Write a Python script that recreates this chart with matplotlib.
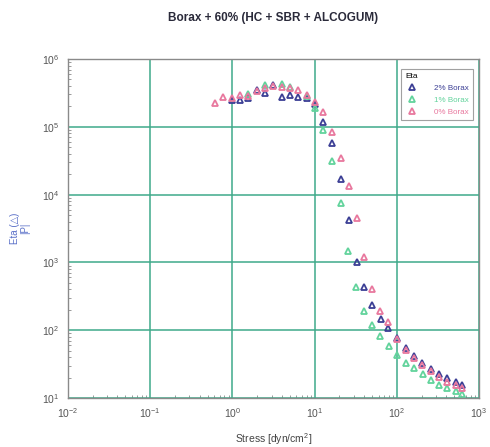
import matplotlib
matplotlib.use("Agg")
import matplotlib.pyplot as plt
from matplotlib.ticker import LogLocator, NullFormatter

plt.rcParams['font.family'] = ['Liberation Sans', 'DejaVu Sans']
plt.rcParams['mathtext.fontset'] = 'custom'
plt.rcParams['mathtext.rm'] = 'Liberation Sans'

title = "Borax + 60% (HC + SBR + ALCOGUM)"
series_names = ["2% Borax", "1% Borax", "0% Borax"]
series_colors = ["#3c3f95", "#62d39c", "#e8789e"]

# Stress [dyn/cm^2] and viscosity Eta [P] for each borax level
stress_2 = [0.98, 1.24, 1.56, 1.98, 2.49, 3.15, 3.98, 5.01, 6.31, 8.0, 10.1, 12.8,
            16.4, 20.8, 26.2, 32.5, 39.9, 49.5, 63.7, 78.8, 100, 128, 162, 204, 258,
            326, 411, 521, 627]
eta_2 = [2.48e5, 2.48e5, 2.63e5, 3.49e5, 3.12e5, 4.14e5, 2.78e5, 2.94e5, 2.78e5,
         2.63e5, 2.17e5, 1.19e5, 5.8e4, 1.68e4, 4.2e3, 1.02e3, 430, 236, 148, 107,
         77, 54, 41.7, 33.3, 26.8, 22.6, 19.5, 17.4, 15.6]

stress_1 = [1.56, 2.49, 3.98, 5.01, 8.0, 10.1, 12.8, 16.4, 20.8, 25.7, 31.9, 39.9,
            49.9, 62.5, 80.4, 101, 129, 163, 207, 258, 329, 411, 521, 627]
eta_1 = [3.0e5, 4.14e5, 4.27e5, 3.9e5, 2.85e5, 1.88e5, 8.9e4, 3.16e4, 7.6e3,
         1.48e3, 439, 194, 119, 82, 58.5, 43, 33, 27.4, 22.6, 18.4, 15.6, 13.9,
         12.7, 11.5]

stress_0 = [0.614, 0.774, 0.98, 1.24, 1.56, 1.98, 2.49, 3.15, 3.98, 5.01, 6.31, 8.0,
            10.1, 12.8, 16.1, 20.8, 26.2, 33.1, 40.3, 49.9, 62.5, 78.8, 101, 128,
            162, 204, 258, 326, 411, 521, 627]
eta_0 = [2.22e5, 2.78e5, 2.66e5, 2.94e5, 2.84e5, 3.4e5, 3.7e5, 3.99e5, 3.9e5,
         3.7e5, 3.49e5, 2.94e5, 2.34e5, 1.67e5, 8.5e4, 3.43e4, 1.34e4, 4.47e3,
         1.19e3, 401, 192, 132, 74, 51, 38.9, 30.7, 25, 20.6, 17.4, 15.5, 14]

xlim = (1e-2, 1e3)
ylim = (1e1, 1e6)

fig = plt.figure(figsize=(4.9, 4.47), dpi=100)
ax = fig.add_axes([68 / 490, 1 - 398 / 447, 411 / 490, 339 / 447])
ax.set_xscale('log')
ax.set_yscale('log')
ax.set_xlim(*xlim)
ax.set_ylim(*ylim)

ax.grid(True, which='major', color='#3fa98a', linewidth=1.1)
ax.set_axisbelow(True)

data = [(stress_2, eta_2), (stress_1, eta_1), (stress_0, eta_0)]
for (xs, ys), name, col in zip(data, series_names, series_colors):
    ax.plot(xs, ys, linestyle='none', marker='^', markersize=5,
            markerfacecolor='none', markeredgecolor=col, markeredgewidth=1.3,
            label=name)

for sp in ax.spines.values():
    sp.set_color('#8a8a8a')
    sp.set_linewidth(1.0)

ax.xaxis.set_major_locator(LogLocator(base=10, numticks=10))
ax.yaxis.set_major_locator(LogLocator(base=10, numticks=10))
ax.xaxis.set_minor_locator(LogLocator(base=10, subs=range(2, 10), numticks=20))
ax.yaxis.set_minor_locator(LogLocator(base=10, subs=range(2, 10), numticks=20))
ax.xaxis.set_minor_formatter(NullFormatter())
ax.yaxis.set_minor_formatter(NullFormatter())
ax.tick_params(which='both', direction='in', color='#8a8a8a', labelcolor='#555555',
               labelsize=7.5)
ax.tick_params(which='major', length=0, pad=6)
ax.tick_params(which='minor', length=2.5, width=0.6)

fig.text((68 + 479) / 2 / 490, 1 - 18 / 447, title, ha='center', va='center',
         fontsize=8.5, fontweight='bold', color='#2a2a3a')
ax.set_xlabel('Stress [dyn/cm$^2$]', fontsize=7.5, color='#444444', labelpad=8)
ax.set_ylabel('Eta (\u25B3)\n|P|', fontsize=7, color='#5a70c8', labelpad=9,
              linespacing=1.0)

leg = ax.legend(loc='upper right', title='Eta', fontsize=5.8, title_fontsize=6,
                frameon=True, fancybox=False, edgecolor='#8a8a8a',
                borderpad=0.5, labelspacing=0.55, handletextpad=2.0,
                handlelength=1.6, markerscale=0.8,
                bbox_to_anchor=(0.995, 0.983), alignment='left')
leg.get_frame().set_linewidth(0.8)
for txt, col in zip(leg.get_texts(), series_colors):
    txt.set_color(col)

fig.savefig('out.png', dpi=100)
